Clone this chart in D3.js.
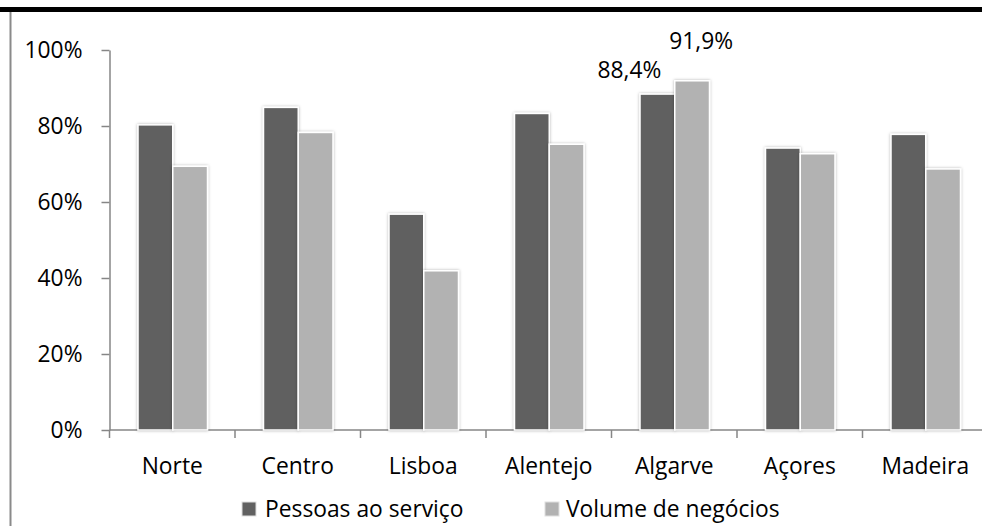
<!DOCTYPE html>
<html>
<head>
<meta charset="utf-8">
<script src="https://cdn.jsdelivr.net/npm/d3@7"></script>
<style>
  html, body { margin: 0; padding: 0; background: #fff; }
  svg { display: block; font-family: "Open Sans", Lato, sans-serif; }
</style>
</head>
<body>
<svg id="chart" width="982" height="526"></svg>
<script>
// Regions of Portugal
const categories = ["Norte", "Centro", "Lisboa", "Alentejo", "Algarve", "Açores", "Madeira"];
const seriesNames = ["Pessoas ao serviço", "Volume de negócios"];
// Shares (fractions of 1)
const pessoas = [0.803, 0.849, 0.568, 0.833, 0.884, 0.742, 0.778];
const volume  = [0.694, 0.783, 0.419, 0.752, 0.919, 0.727, 0.687];
const yTicks = [0, 0.2, 0.4, 0.6, 0.8, 1.0];
const colors = ["#616161", "#b2b2b2"];
// Labelled values (region, series index, label text)
const labelled = [
  { region: "Algarve", series: 0, text: "88,4%", dx: -28, dy: -16 },
  { region: "Algarve", series: 1, text: "91,9%", dx: 9, dy: -32 }
];

const svg = d3.select("#chart");
const W = 982, H = 526;
const fontSize = 22.8;
const fontFamily = "'Open Sans', Lato, sans-serif";

// Soft shadow around the bars
const defs = svg.append("defs");
const f = defs.append("filter").attr("id", "shadow")
  .attr("x", "-20%").attr("y", "-10%").attr("width", "140%").attr("height", "120%");
f.append("feDropShadow").attr("dx", 0).attr("dy", 0)
  .attr("stdDeviation", 1.6).attr("flood-color", "#000").attr("flood-opacity", 0.3);

// Frame: heavy top rule and thin left rule
svg.append("rect").attr("x", 0).attr("y", 7).attr("width", W).attr("height", 5).attr("fill", "#000");
svg.append("line").attr("x1", 10.5).attr("x2", 10.5).attr("y1", 12).attr("y2", H)
  .attr("stroke", "#8a8a8a").attr("stroke-width", 2);

const x0 = 109.5, step = 125.5;
const x = d3.scaleBand().domain(categories).range([x0, x0 + step * categories.length]).padding(0);
const xs = d3.scaleBand().domain([0, 1]).range([28.5, 98]).padding(0);
const y = d3.scaleLinear().domain([0, 1]).range([430, 50]);

const axisColor = "#868686";

// Y axis
const yAxis = svg.append("g").attr("transform", `translate(${x0},0)`)
  .call(d3.axisLeft(y).tickValues(yTicks).tickFormat(d3.format(".0%")).tickSize(8).tickSizeOuter(0).tickPadding(19));
yAxis.select(".domain").attr("stroke", axisColor).attr("stroke-width", 1.5);
yAxis.selectAll(".tick line").attr("stroke", axisColor).attr("stroke-width", 1.5);
yAxis.selectAll(".tick text").attr("font-size", fontSize).attr("fill", "#000")
  .attr("font-family", fontFamily);

// X axis: baseline with ticks at category boundaries
const xAxis = svg.append("g").attr("transform", `translate(0,${y(0)})`);
xAxis.append("line").attr("x1", x0).attr("x2", W).attr("y1", 0).attr("y2", 0)
  .attr("stroke", axisColor).attr("stroke-width", 1.5);
const bounds = categories.map(c => x(c)).concat([x(categories[categories.length - 1]) + x.bandwidth()]);
xAxis.selectAll("line.tk").data(bounds).join("line").attr("class", "tk")
  .attr("x1", d => d).attr("x2", d => d).attr("y1", 0).attr("y2", 8)
  .attr("stroke", axisColor).attr("stroke-width", 1.5);
xAxis.selectAll("text").data(categories).join("text")
  .attr("x", d => x(d) + x.bandwidth() / 2).attr("y", 43.5)
  .attr("text-anchor", "middle").attr("font-size", fontSize).attr("fill", "#000").text(d => d);

// Bars
const series = [pessoas, volume];
const groups = svg.append("g").selectAll("g").data(series).join("g")
  .attr("fill", (d, i) => colors[i]);
groups.each(function (vals, si) {
  d3.select(this).selectAll("rect").data(vals).join("rect")
    .attr("x", (v, i) => x(categories[i]) + xs(si))
    .attr("width", xs.bandwidth())
    .attr("y", v => y(v))
    .attr("height", v => y(0) - y(v))
    .attr("stroke", "#fff").attr("stroke-width", 1.5)
    .attr("filter", "url(#shadow)");
});

// Value labels
svg.append("g").selectAll("text").data(labelled).join("text")
  .attr("x", d => x(d.region) + xs(d.series) + xs.bandwidth() / 2 + d.dx)
  .attr("y", d => y(series[d.series][categories.indexOf(d.region)]) + d.dy)
  .attr("text-anchor", "middle").attr("font-size", fontSize).attr("fill", "#000")
  .text(d => d.text);

// Legend
const legendItems = [{ name: seriesNames[0], sx: 242, tx: 265 }, { name: seriesNames[1], sx: 545, tx: 566 }];
const lg = svg.append("g").selectAll("g").data(legendItems).join("g");
lg.append("rect").attr("x", d => d.sx).attr("y", 502).attr("width", 14).attr("height", 14)
  .attr("fill", (d, i) => colors[i]).attr("stroke", "#e0e0e0").attr("stroke-width", 1);
lg.append("text").attr("x", d => d.tx).attr("y", 517).attr("font-size", fontSize).attr("fill", "#000")
  .text(d => d.name);
</script>
</body>
</html>
